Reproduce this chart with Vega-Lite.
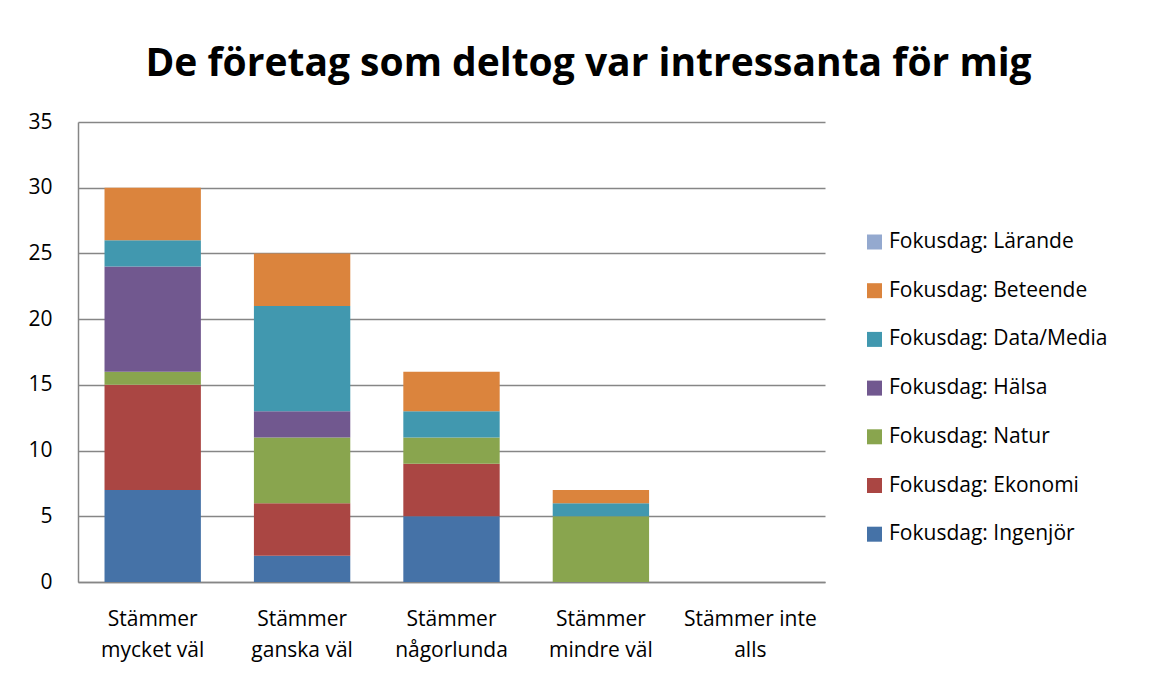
{
  "$schema": "https://vega.github.io/schema/vega-lite/v6.json",
  "width": 747,
  "height": 460,
  "autosize": "none",
  "padding": {"left": 78, "top": 122, "right": 325, "bottom": 93},
  "background": "white",
  "title": {
    "text": "De företag som deltog var intressanta för mig",
    "font": "Open Sans",
    "fontSize": 39,
    "fontWeight": "bold",
    "color": "black",
    "anchor": "middle",
    "dx": 137,
    "baseline": "alphabetic",
    "offset": 34,
    "dy": 38
  },
  "data": {
    "values": [
      {"cat": "Stämmer mycket väl", "serie": "Fokusdag: Ingenjör", "idx": 1, "n": 7},
      {"cat": "Stämmer mycket väl", "serie": "Fokusdag: Ekonomi", "idx": 2, "n": 8},
      {"cat": "Stämmer mycket väl", "serie": "Fokusdag: Natur", "idx": 3, "n": 1},
      {"cat": "Stämmer mycket väl", "serie": "Fokusdag: Hälsa", "idx": 4, "n": 8},
      {"cat": "Stämmer mycket väl", "serie": "Fokusdag: Data/Media", "idx": 5, "n": 2},
      {"cat": "Stämmer mycket väl", "serie": "Fokusdag: Beteende", "idx": 6, "n": 4},
      {"cat": "Stämmer ganska väl", "serie": "Fokusdag: Ingenjör", "idx": 1, "n": 2},
      {"cat": "Stämmer ganska väl", "serie": "Fokusdag: Ekonomi", "idx": 2, "n": 4},
      {"cat": "Stämmer ganska väl", "serie": "Fokusdag: Natur", "idx": 3, "n": 5},
      {"cat": "Stämmer ganska väl", "serie": "Fokusdag: Hälsa", "idx": 4, "n": 2},
      {"cat": "Stämmer ganska väl", "serie": "Fokusdag: Data/Media", "idx": 5, "n": 8},
      {"cat": "Stämmer ganska väl", "serie": "Fokusdag: Beteende", "idx": 6, "n": 4},
      {"cat": "Stämmer någorlunda", "serie": "Fokusdag: Ingenjör", "idx": 1, "n": 5},
      {"cat": "Stämmer någorlunda", "serie": "Fokusdag: Ekonomi", "idx": 2, "n": 4},
      {"cat": "Stämmer någorlunda", "serie": "Fokusdag: Natur", "idx": 3, "n": 2},
      {"cat": "Stämmer någorlunda", "serie": "Fokusdag: Data/Media", "idx": 5, "n": 2},
      {"cat": "Stämmer någorlunda", "serie": "Fokusdag: Beteende", "idx": 6, "n": 3},
      {"cat": "Stämmer mindre väl", "serie": "Fokusdag: Natur", "idx": 3, "n": 5},
      {"cat": "Stämmer mindre väl", "serie": "Fokusdag: Data/Media", "idx": 5, "n": 1},
      {"cat": "Stämmer mindre väl", "serie": "Fokusdag: Beteende", "idx": 6, "n": 1}
    ]
  },
  "mark": {"type": "bar"},
  "encoding": {
    "x": {
      "field": "cat",
      "type": "nominal",
      "scale": {
        "domain": ["Stämmer mycket väl", "Stämmer ganska väl", "Stämmer någorlunda", "Stämmer mindre väl", "Stämmer inte alls"],
        "paddingInner": 0.355,
        "paddingOuter": 0.1775
      },
      "axis": {
        "title": null,
        "labelAngle": 0,
        "labelFont": "Open Sans",
        "labelFontSize": 21,
        "labelColor": "black",
        "labelLineHeight": 31,
        "labelPadding": 26,
        "labelExpr": "datum.label == 'Stämmer inte alls' ? ['Stämmer inte', 'alls'] : ['Stämmer', replace(datum.label, 'Stämmer ', '')]",
        "ticks": false,
        "domainColor": "#868686",
        "domainWidth": 1.5,
        "grid": false
      }
    },
    "y": {
      "field": "n",
      "type": "quantitative",
      "stack": "zero",
      "scale": {"domain": [0, 35], "nice": false},
      "axis": {
        "title": null,
        "values": [0, 5, 10, 15, 20, 25, 30, 35],
        "labelFont": "Open Sans",
        "labelFontSize": 21,
        "labelColor": "black",
        "labelPadding": 26,
        "ticks": false,
        "domainColor": "#868686",
        "domainWidth": 1.5,
        "grid": true,
        "gridColor": "#868686",
        "gridWidth": 1.5
      }
    },
    "color": {
      "field": "serie",
      "type": "nominal",
      "scale": {
        "domain": ["Fokusdag: Lärande", "Fokusdag: Beteende", "Fokusdag: Data/Media", "Fokusdag: Hälsa", "Fokusdag: Natur", "Fokusdag: Ekonomi", "Fokusdag: Ingenjör"],
        "range": ["#94A9CF", "#DB843D", "#4198AF", "#71588F", "#89A54E", "#AA4643", "#4572A7"]
      },
      "legend": {
        "title": null,
        "orient": "none",
        "legendX": 786,
        "legendY": 109.5,
        "padding": 0,
        "symbolType": "square",
        "symbolSize": 225,
        "symbolStrokeWidth": 0,
        "symbolOpacity": 1,
        "labelFont": "Open Sans",
        "labelFontSize": 21,
        "labelColor": "black",
        "labelOffset": 4,
        "rowPadding": 26.7,
        "labelLimit": 400
      }
    },
    "order": {"field": "idx", "type": "quantitative"}
  },
  "config": {"view": {"stroke": null}}
}
